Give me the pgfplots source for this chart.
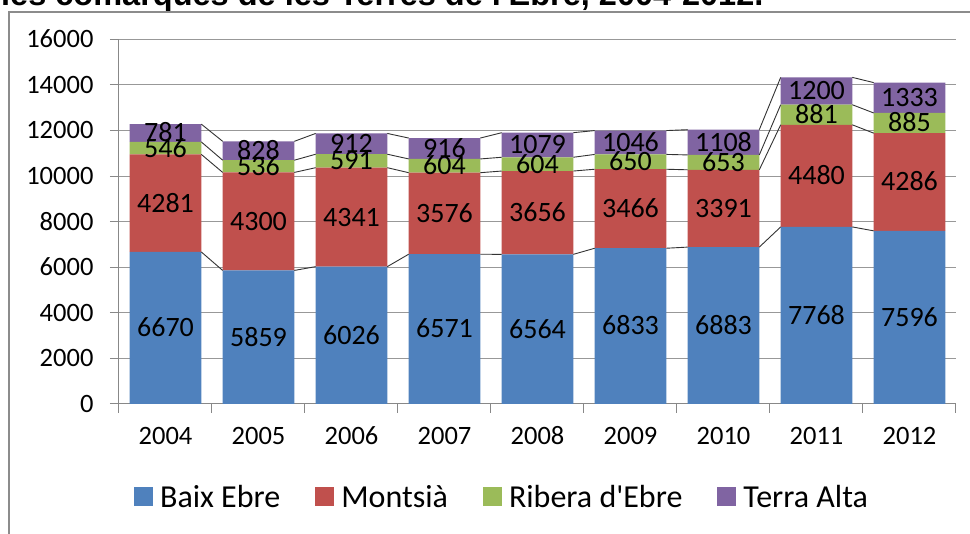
\documentclass[border=0pt]{standalone}
\usepackage{pgfplots}
\pgfplotsset{compat=1.18}
\usepackage{fontspec}
\setmainfont{Carlito}
\newfontfamily\titlefont{Liberation Sans}
\definecolor{cbaix}{HTML}{4F81BD}
\definecolor{cmont}{HTML}{C0504D}
\definecolor{crib}{HTML}{9BBB59}
\definecolor{cterra}{HTML}{8064A2}
\definecolor{gridgray}{HTML}{989898}
\definecolor{axisgray}{HTML}{888888}
\definecolor{framegray}{HTML}{8C8C8C}
\begin{document}
\begin{tikzpicture}[x=1pt,y=1pt]
\pgfplotsset{
  common/.style={
    scale only axis, width=837pt, height=364.7pt,
    xmin=-0.5, xmax=8.5, ymin=0, ymax=16000,
  }
}
\begin{axis}[
  common, name=ax,
  ybar stacked, bar width=0.77,
  axis lines*=left,
  axis line style={draw=axisgray, line width=1pt, -},
  ymajorgrids=true, xmajorgrids=false,
  grid style={draw=gridgray, line width=1pt},
  ytick={0,2000,...,16000},
  scaled y ticks=false,
  xtick={0,1,2,3,4,5,6,7,8},
  xticklabels={2004,2005,2006,2007,2008,2009,2010,2011,2012},
  minor xtick={-0.5,0.5,1.5,2.5,3.5,4.5,5.5,6.5,7.5,8.5},
  tick align=outside,
  major tick length=9pt, minor tick length=9pt,
  major x tick style={draw=none},
  minor x tick style={draw=axisgray, line width=1pt},
  major y tick style={draw=axisgray, line width=1pt},
  ticklabel style={font=\fontsize{26.5}{30}\selectfont, text height=17pt, text depth=0pt},
  yticklabel style={xshift=-13pt},
  xticklabel style={yshift=-11pt},
  /pgf/number format/assume math mode=true,
  /pgf/number format/1000 sep={},
  legend style={at={(axis description cs:0.4576,-0.255)}, anchor=center,
    draw=none, fill=none, legend columns=4,
    font=\fontsize{32}{34}\selectfont,
    /tikz/every odd column/.append style={column sep=5pt},
    /tikz/every even column/.append style={column sep=33pt}},
  legend image code/.code={\fill[#1, draw=none] (0pt,-9.5pt) rectangle (19pt,9.5pt);},
]
\coordinate (O) at (rel axis cs:0,0);
\addplot[fill=cbaix, draw=none] coordinates {(0,6670) (1,5859) (2,6026) (3,6571) (4,6564) (5,6833) (6,6883) (7,7768) (8,7596)};
\addplot[fill=cmont, draw=none] coordinates {(0,4281) (1,4300) (2,4341) (3,3576) (4,3656) (5,3466) (6,3391) (7,4480) (8,4286)};
\addplot[fill=crib, draw=none] coordinates {(0,546) (1,536) (2,591) (3,604) (4,604) (5,650) (6,653) (7,881) (8,885)};
\addplot[fill=cterra, draw=none] coordinates {(0,781) (1,828) (2,912) (3,916) (4,1079) (5,1046) (6,1108) (7,1200) (8,1333)};
\legend{Baix Ebre, Montsià, Ribera d\textquotesingle Ebre, Terra Alta}
\end{axis}
\begin{axis}[
  common, at={(ax.south west)}, anchor=south west, hide axis, unbounded coords=jump,
]
% series lines (cumulative tops of each layer)
\addplot[black!80, line width=0.9pt, mark=none] coordinates {
 (0.385,6670) (0.615,5859) (1,nan) (1.385,5859) (1.615,6026) (2,nan) (2.385,6026) (2.615,6571) (3,nan)
 (3.385,6571) (3.615,6564) (4,nan) (4.385,6564) (4.615,6833) (5,nan) (5.385,6833) (5.615,6883) (6,nan)
 (6.385,6883) (6.615,7768) (7,nan) (7.385,7768) (7.615,7596)};
\addplot[black!80, line width=0.9pt, mark=none] coordinates {
 (0.385,10951) (0.615,10159) (1,nan) (1.385,10159) (1.615,10367) (2,nan) (2.385,10367) (2.615,10147) (3,nan)
 (3.385,10147) (3.615,10220) (4,nan) (4.385,10220) (4.615,10299) (5,nan) (5.385,10299) (5.615,10274) (6,nan)
 (6.385,10274) (6.615,12248) (7,nan) (7.385,12248) (7.615,11882)};
\addplot[black!80, line width=0.9pt, mark=none] coordinates {
 (0.385,11497) (0.615,10695) (1,nan) (1.385,10695) (1.615,10958) (2,nan) (2.385,10958) (2.615,10751) (3,nan)
 (3.385,10751) (3.615,10824) (4,nan) (4.385,10824) (4.615,10949) (5,nan) (5.385,10949) (5.615,10927) (6,nan)
 (6.385,10927) (6.615,13129) (7,nan) (7.385,13129) (7.615,12767)};
\addplot[black!80, line width=0.9pt, mark=none] coordinates {
 (0.385,12278) (0.615,11523) (1,nan) (1.385,11523) (1.615,11870) (2,nan) (2.385,11870) (2.615,11667) (3,nan)
 (3.385,11667) (3.615,11903) (4,nan) (4.385,11903) (4.615,11995) (5,nan) (5.385,11995) (5.615,12035) (6,nan)
 (6.385,12035) (6.615,14329) (7,nan) (7.385,14329) (7.615,14100)};
% data labels at the middle of each segment
\pgfplotsset{lbl/.style={draw=none, mark=none, nodes near coords, point meta=explicit symbolic,
  nodes near coords align=center,
  every node near coord/.append style={anchor=center, inner sep=0pt, text=black, text height=17.7pt, text depth=0pt, font=\fontsize{28}{30}\selectfont}}}
\addplot[lbl] coordinates {(0,3335)[6670] (1,2929.5)[5859] (2,3013)[6026] (3,3285.5)[6571] (4,3282)[6564] (5,3416.5)[6833] (6,3441.5)[6883] (7,3884)[7768] (8,3798)[7596]};
\addplot[lbl] coordinates {(0,8810.5)[4281] (1,8009)[4300] (2,8196.5)[4341] (3,8359)[3576] (4,8392)[3656] (5,8566)[3466] (6,8578.5)[3391] (7,10008)[4480] (8,9739)[4286]};
\addplot[lbl] coordinates {(0,11224)[546] (1,10427)[536] (2,10662.5)[591] (3,10449)[604] (4,10522)[604] (5,10624)[650] (6,10600.5)[653] (7,12688.5)[881] (8,12324.5)[885]};
\addplot[lbl] coordinates {(0,11887.5)[781] (1,11109)[828] (2,11414)[912] (3,11209)[916] (4,11363.5)[1079] (5,11472)[1046] (6,11481)[1108] (7,13729)[1200] (8,13433.5)[1333]};
\end{axis}
\begin{scope}[shift={(O)}]
% title (cut at the top) and outer frame, placed relative to the axis origin
\node[anchor=base west, inner sep=0pt, font=\titlefont\bfseries\fontsize{32.5}{34}\selectfont] at (-118,398) {les comarques de les Terres de l\textquotesingle Ebre, 2004-2012.};
\draw[framegray, line width=1.3pt] (-110,-140) -- (-110,392) -- (871,392);
\pgfresetboundingbox
\useasboundingbox (-119,-130) rectangle (851,404);
\end{scope}
\end{tikzpicture}
\end{document}
